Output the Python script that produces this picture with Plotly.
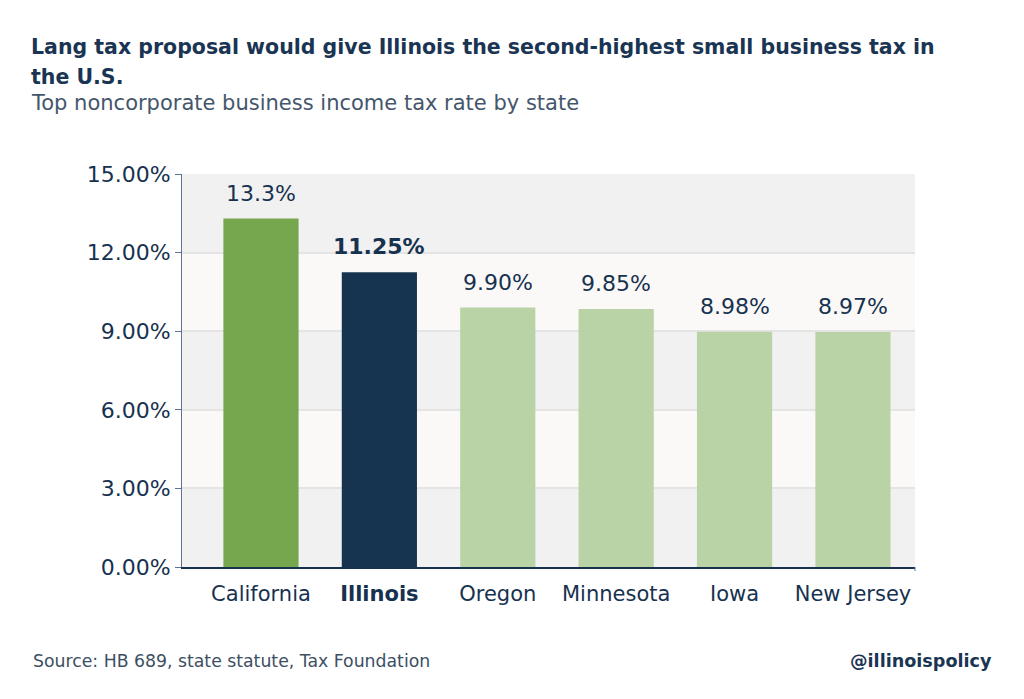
import plotly.graph_objects as go

states = ["California", "Illinois", "Oregon", "Minnesota", "Iowa", "New Jersey"]
rates = [13.3, 11.25, 9.90, 9.85, 8.98, 8.97]
rate_labels = ["13.3%", "11.25%", "9.90%", "9.85%", "8.98%", "8.97%"]
tick_vals = [0, 3, 6, 9, 12, 15]
tick_labels = ["0.00%", "3.00%", "6.00%", "9.00%", "12.00%", "15.00%"]

NAVY = "#17324f"
FONT = "DejaVu Sans, Liberation Sans, Arial"
colors = ["#76a64d", "#16334f", "#b9d3a6", "#b9d3a6", "#b9d3a6", "#b9d3a6"]

# page has an 8px body margin; plot area on screen: x 182..915, y 174..567
OFF = 8
L, R, T, B = 182 - OFF, 1024 - 915 + OFF, 174 - OFF, 699 - 567 + OFF
W, H = 1024 - L - R, 699 - T - B


def xp(sx):
    return (sx - OFF - L) / W


def yp(sy):
    return 1 - (sy - OFF - T) / H


fig = go.Figure()
fig.add_trace(go.Bar(
    x=states, y=rates, marker=dict(color=colors, line=dict(width=0)),
    width=0.635, hoverinfo="skip", showlegend=False,
))

for s, v, lab in zip(states, rates, rate_labels):
    bold = s == "Illinois"
    fig.add_annotation(
        x=s, y=v, xref="x", yref="y", text=f"<b>{lab}</b>" if bold else lab,
        showarrow=False, yanchor="bottom", yshift=11,
        font=dict(family=FONT, size=22, color=NAVY),
    )

for i in range(len(tick_vals) - 1):
    fill = "#f1f1f1" if i % 2 == 0 else "#faf9f8"
    fig.add_shape(type="rect", xref="paper", yref="y", x0=0, x1=1,
                  y0=tick_vals[i], y1=tick_vals[i + 1],
                  fillcolor=fill, line=dict(width=0), layer="below")

cat_text = [f"<b>{s}</b>" if s == "Illinois" else s for s in states]

fig.update_layout(
    width=1024, height=699,
    margin=dict(l=L, r=R, t=T, b=B),
    paper_bgcolor="white", plot_bgcolor="white",
    font=dict(family=FONT, color=NAVY),
    xaxis=dict(
        range=[-0.667, 5.524], tickmode="array", tickvals=states, ticktext=cat_text,
        tickfont=dict(size=21, color=NAVY), showgrid=False, showline=True,
        linecolor=NAVY, linewidth=1.5, ticks="", fixedrange=True,
        ticklabelstandoff=7,
    ),
    yaxis=dict(
        range=[0, 15], tickmode="array", tickvals=tick_vals, ticktext=tick_labels,
        tickfont=dict(size=22, color=NAVY), showgrid=True, gridcolor="#e4e4e4",
        gridwidth=1.5, showline=True, linecolor="#5c7390", linewidth=1,
        ticks="outside", ticklen=6, tickcolor="#5c7390", zeroline=False,
        layer="below traces",
    ),
)

# small tick at the right end of the baseline
fig.add_shape(type="line", xref="paper", yref="paper", x0=1, x1=1,
              y0=0, y1=-4 / H, line=dict(color="#5c7390", width=1))

for line_text, cy in [
    ("Lang tax proposal would give Illinois the second-highest small business tax in", 47),
    ("the U.S.", 77),
]:
    fig.add_annotation(
        xref="paper", yref="paper", x=xp(29), y=yp(cy),
        xanchor="left", yanchor="middle", align="left", showarrow=False,
        text=f"<b>{line_text}</b>",
        font=dict(family=FONT, size=20.5, color="#1a3553"),
    )
fig.add_annotation(
    xref="paper", yref="paper", x=xp(29), y=yp(103),
    xanchor="left", yanchor="middle", align="left", showarrow=False,
    text="Top noncorporate business income tax rate by state",
    font=dict(family=FONT, size=21, color="#44566b"),
)
fig.add_annotation(
    xref="paper", yref="paper", x=xp(31), y=yp(661),
    xanchor="left", yanchor="middle", showarrow=False,
    text="Source: HB 689, state statute, Tax Foundation",
    font=dict(family=FONT, size=17.3, color="#3d4f63"),
)
fig.add_annotation(
    xref="paper", yref="paper", x=xp(994), y=yp(661),
    xanchor="right", yanchor="middle", showarrow=False,
    text="<b>@illinoispolicy</b>",
    font=dict(family=FONT, size=17.6, color="#1a3553"),
)

fig.write_html("out.html")
